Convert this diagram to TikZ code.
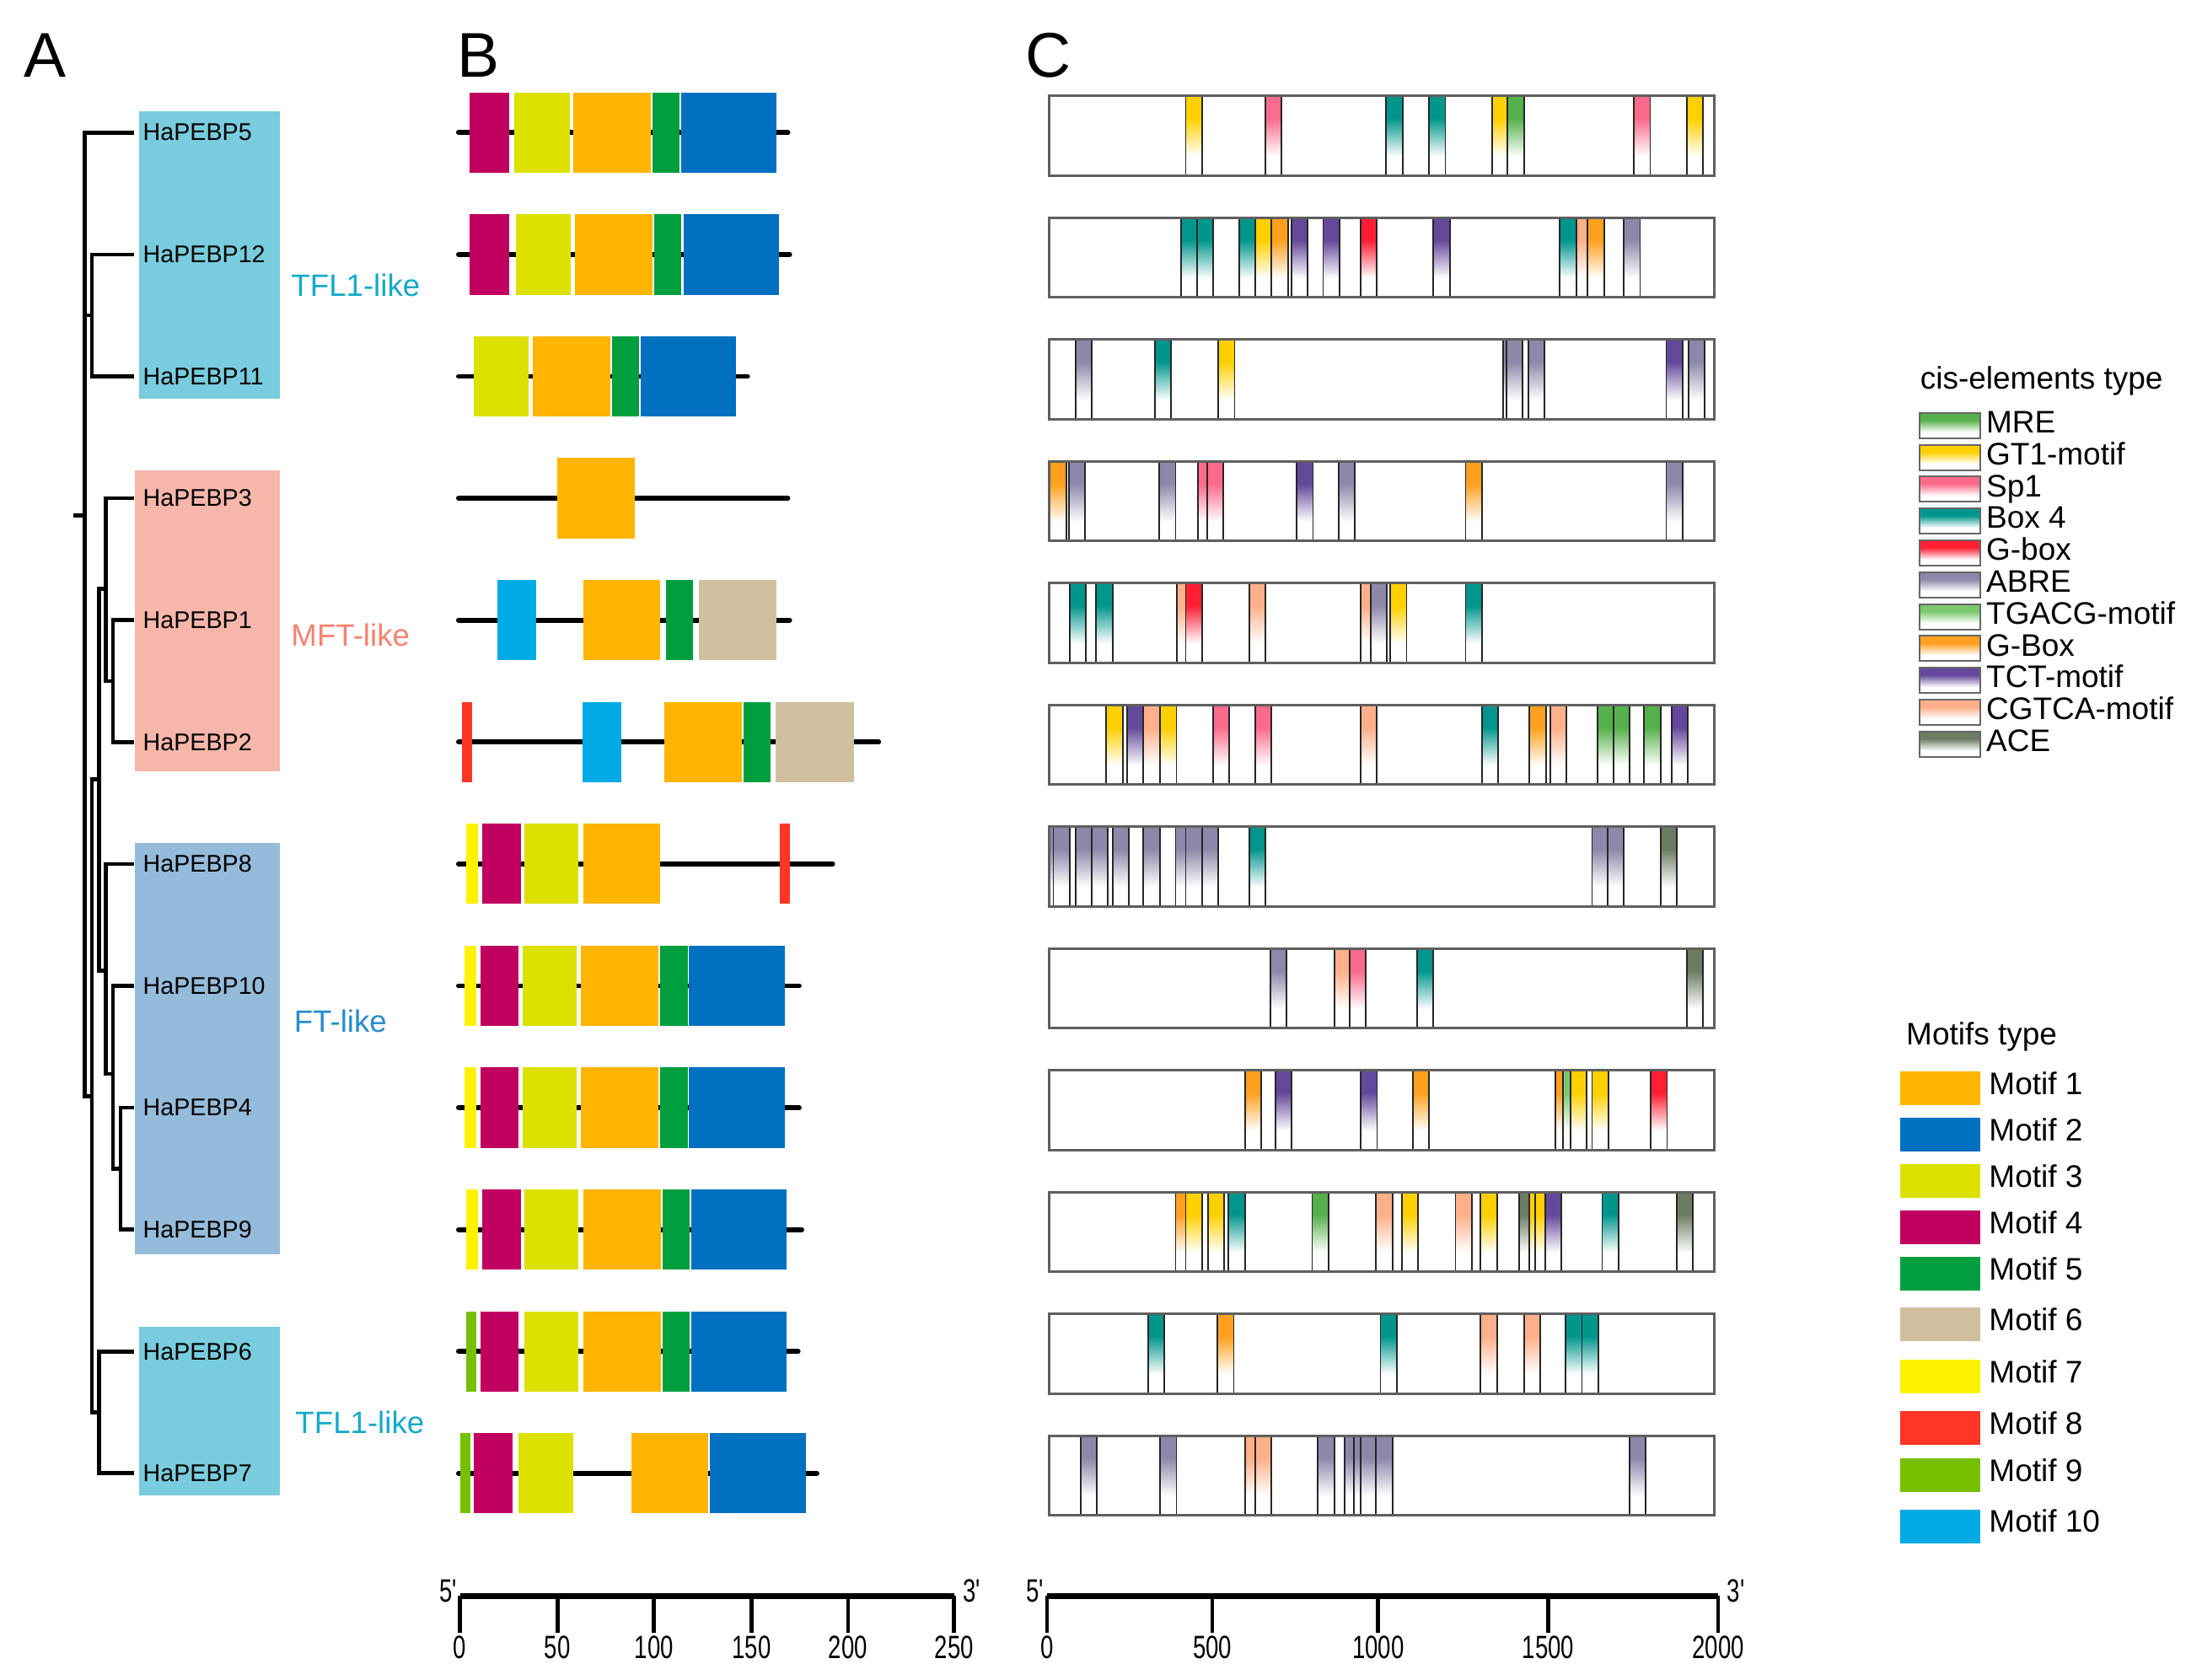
\documentclass[tikz,border=0pt]{standalone}
\usepackage{fontspec}
\setmainfont{Liberation Sans}
\usepackage{graphicx}

% motif colours
\definecolor{mA}{HTML}{FFB400}
\definecolor{mB}{HTML}{0070C0}
\definecolor{mC}{HTML}{DCE100}
\definecolor{mD}{HTML}{C0005E}
\definecolor{mE}{HTML}{009E3D}
\definecolor{mF}{HTML}{CFBF9F}
\definecolor{mG}{HTML}{FFF200}
\definecolor{mH}{HTML}{FF3526}
\definecolor{mI}{HTML}{76C000}
\definecolor{mJ}{HTML}{00ABE4}
% cis-element colours
\definecolor{cMRE}{HTML}{55AF4A}
\definecolor{cGT}{HTML}{FFD000}
\definecolor{cSp}{HTML}{FA6A8A}
\definecolor{cBox}{HTML}{00968C}
\definecolor{cGb}{HTML}{FF1E32}
\definecolor{cAB}{HTML}{8C88AA}
\definecolor{cTG}{HTML}{7AC86C}
\definecolor{cGB}{HTML}{FFA01E}
\definecolor{cTCT}{HTML}{64489A}
\definecolor{cCG}{HTML}{FFB08A}
\definecolor{cACE}{HTML}{6C7C62}
% group colours
\definecolor{bgTFL}{HTML}{78CCDD}
\definecolor{bgMFT}{HTML}{F7B6AA}
\definecolor{bgFT}{HTML}{95BBDA}
\definecolor{txTFL}{HTML}{13AACB}
\definecolor{txMFT}{HTML}{F5826E}
\definecolor{txFT}{HTML}{288CCD}
\definecolor{rowgray}{HTML}{5F5F5F}

\colorlet{cistop}{red}
\pgfdeclareverticalshading[cistop]{cisfade}{100bp}{color(0bp)=(white); color(37bp)=(white); color(61bp)=(cistop); color(100bp)=(cistop)}

\newcommand\cisel[3]{%
  \colorlet{cistop}{#1}%
  \pgfmathsetmacro\cisy{68.4+(#3-1)*86.74}%
  \shade[shading=cisfade] (#2,\cisy) rectangle ++(11.6,56.7);%
  \draw[elline] (#2,\cisy) rectangle ++(11.6,56.7);%
}
\newcommand\gline[3]{\draw[gline] (#1,#3) -- (#2,#3);}
\newcommand\mot[4]{\fill[#1] (#2,#4-28.6) rectangle (#3,#4+28.6);}
\newcommand\cond[1]{\scalebox{0.72}[1]{#1}}

\tikzset{
  treeline/.style={line width=1.4pt, line cap=rect},
  gene/.style={anchor=west, inner sep=0pt, font=\fontsize{8.6}{9}\selectfont},
  grp/.style={anchor=west, inner sep=0pt, font=\fontsize{11}{12}\selectfont},
  panel/.style={anchor=base west, inner sep=0pt, font=\fontsize{22.5}{24}\selectfont},
  gline/.style={line width=1.75pt, line cap=round},
  elline/.style={draw=black!85, line width=0.55pt},
  rowbox/.style={draw=rowgray, line width=0.9pt},
  legtxt/.style={anchor=base west, inner sep=0pt, font=\fontsize{11.1}{12}\selectfont},
  swatch/.style={draw=gray!80!black, line width=0.6pt},
  axmain/.style={line width=2pt},
  axtick/.style={line width=1.4pt},
  axl/.style={inner sep=0pt, font=\fontsize{11.5}{12}\selectfont},
}

\begin{document}
\begin{tikzpicture}[x=0.5pt, y=-0.5pt]
\useasboundingbox (0,0) rectangle (1568,1196);
\fill[white] (0,0) rectangle (1568,1196);

% panel letters
\node[panel] (lA) at (17,55) {A};
\node[panel] (lB) at (325,55) {B};
\node[panel] (lC) at (730,55) {C};

% ---------------- Panel A ----------------
\fill[bgTFL] (99,79) rectangle (199,284);
\fill[bgMFT] (96,335) rectangle (199,549.5);
\fill[bgFT]  (96,600) rectangle (199,893);
\fill[bgTFL] (99,945) rectangle (199,1065);

\coordinate (t5)  at (94,94.4);
\coordinate (t12) at (94,181.2);
\coordinate (t11) at (94,268.0);
\coordinate (t3)  at (94,354.8);
\coordinate (t1)  at (94,441.6);
\coordinate (t2)  at (94,528.4);
\coordinate (t8)  at (94,615.2);
\coordinate (t10) at (94,702.0);
\coordinate (t4)  at (94,788.8);
\coordinate (t9)  at (94,875.6);
\coordinate (t6)  at (94,962.4);
\coordinate (t7)  at (94,1049.2);

\coordinate (R0)  at (53.8,367);
\coordinate (R)   at (60.4,367);
\coordinate (N1)  at (65.5,224.6);
\coordinate (N2)  at (65.5,780.6);
\coordinate (N3)  at (70.5,555);
\coordinate (N4)  at (75.5,419.4);
\coordinate (N4b) at (80.5,485.0);
\coordinate (N5)  at (75.5,691.2);
\coordinate (N6)  at (80.5,764.8);
\coordinate (N6b) at (85.9,832.2);
\coordinate (N7)  at (70.5,1005.8);

\draw[treeline] (R0) -- (R);
\draw[treeline] (R) |- (t5);
\draw[treeline] (R) |- (N1);
\draw[treeline] (R) |- (N2);
\draw[treeline] (N1) |- (t12);
\draw[treeline] (N1) |- (t11);
\draw[treeline] (N2) |- (N3);
\draw[treeline] (N2) |- (N7);
\draw[treeline] (N3) |- (N4);
\draw[treeline] (N3) |- (N5);
\draw[treeline] (N4) |- (t3);
\draw[treeline] (N4) |- (N4b);
\draw[treeline] (N4b) |- (t1);
\draw[treeline] (N4b) |- (t2);
\draw[treeline] (N5) |- (t8);
\draw[treeline] (N5) |- (N6);
\draw[treeline] (N6) |- (t10);
\draw[treeline] (N6) |- (N6b);
\draw[treeline] (N6b) |- (t4);
\draw[treeline] (N6b) |- (t9);
\draw[treeline] (N7) |- (t6);
\draw[treeline] (N7) |- (t7);

\node[gene] (g5)  at (101.5,94.4)  {HaPEBP5};
\node[gene] (g12) at (101.5,181.2) {HaPEBP12};
\node[gene] (g11) at (101.5,268.0) {HaPEBP11};
\node[gene] (g3)  at (101.5,354.8) {HaPEBP3};
\node[gene] (g1)  at (101.5,441.6) {HaPEBP1};
\node[gene] (g2)  at (101.5,528.4) {HaPEBP2};
\node[gene] (g8)  at (101.5,615.2) {HaPEBP8};
\node[gene] (g10) at (101.5,702.0) {HaPEBP10};
\node[gene] (g4)  at (101.5,788.8) {HaPEBP4};
\node[gene] (g9)  at (101.5,875.6) {HaPEBP9};
\node[gene] (g6)  at (101.5,962.4) {HaPEBP6};
\node[gene] (g7)  at (101.5,1049.2) {HaPEBP7};

\node[grp, text=txTFL] (grTFLa) at (207,203)  {TFL1-like};
\node[grp, text=txMFT] (grMFT)  at (207,452)  {MFT-like};
\node[grp, text=txFT]  (grFT)   at (209,727)  {FT-like};
\node[grp, text=txTFL] (grTFLb) at (210,1013) {TFL1-like};

% ---------------- Panel B ----------------
% row 1
\gline{326.5}{561}{94.4}
\mot{mD}{334.6}{362.6}{94.4}\mot{mC}{366.2}{405.6}{94.4}\mot{mA}{408}{463.6}{94.4}\mot{mE}{464.4}{483.6}{94.4}\mot{mB}{485}{553}{94.4}
% row 2
\gline{326.5}{562.3}{181.2}
\mot{mD}{334.6}{362.6}{181.2}\mot{mC}{367.4}{406.6}{181.2}\mot{mA}{409.2}{464.6}{181.2}\mot{mE}{465.8}{485}{181.2}\mot{mB}{486.6}{554.4}{181.2}
% row 3
\gline{326.5}{532.3}{268}
\mot{mC}{337.6}{376.6}{268}\mot{mA}{379.2}{434.6}{268}\mot{mE}{435.6}{455}{268}\mot{mB}{456}{524}{268}
% row 4
\gline{326.5}{561}{354.8}
\mot{mA}{397}{452.2}{354.8}
% row 5
\gline{326.5}{562.3}{441.6}
\mot{mJ}{354}{382}{441.6}\mot{mA}{415.2}{470.2}{441.6}\mot{mE}{474}{493.6}{441.6}\mot{mF}{497.4}{553}{441.6}
% row 6
\gline{326.5}{625.7}{528.4}
\mot{mH}{329.2}{336}{528.4}\mot{mJ}{414.6}{442.6}{528.4}\mot{mA}{472.8}{528.2}{528.4}\mot{mE}{529.2}{548.6}{528.4}\mot{mF}{552.4}{608.2}{528.4}
% row 7
\gline{326.5}{592.9}{615.2}
\mot{mG}{332}{340.6}{615.2}\mot{mD}{343.2}{370.8}{615.2}\mot{mC}{373.2}{412}{615.2}\mot{mA}{415.2}{470.2}{615.2}\mot{mH}{555.4}{562.6}{615.2}
% row 8
\gline{326.5}{569.1}{702}
\mot{mG}{330.6}{339.2}{702}\mot{mD}{342}{369.4}{702}\mot{mC}{372.2}{410.6}{702}\mot{mA}{413.4}{468.6}{702}\mot{mE}{470}{490}{702}\mot{mB}{490.6}{558.6}{702}
% row 9
\gline{326.5}{569.1}{788.8}
\mot{mG}{330.6}{339.2}{788.8}\mot{mD}{342}{369.4}{788.8}\mot{mC}{372.2}{410.6}{788.8}\mot{mA}{413.4}{468.6}{788.8}\mot{mE}{470}{490}{788.8}\mot{mB}{490.6}{558.6}{788.8}
% row 10
\gline{326.5}{570.9}{875.6}
\mot{mG}{332}{340.6}{875.6}\mot{mD}{343.2}{370.8}{875.6}\mot{mC}{373.2}{412}{875.6}\mot{mA}{415.2}{470.6}{875.6}\mot{mE}{471.6}{491}{875.6}\mot{mB}{492}{560}{875.6}
% row 11
\gline{326.5}{568.3}{962.4}
\mot{mI}{332}{339.2}{962.4}\mot{mD}{342}{369.4}{962.4}\mot{mC}{373.2}{412}{962.4}\mot{mA}{415.2}{470.6}{962.4}\mot{mE}{471.6}{491}{962.4}\mot{mB}{492}{560}{962.4}
% row 12
\gline{326.5}{581.7}{1049.2}
\mot{mI}{327.6}{334.8}{1049.2}\mot{mD}{337.6}{365}{1049.2}\mot{mC}{369.2}{408}{1049.2}\mot{mA}{449.6}{504.4}{1049.2}\mot{mB}{505.6}{573.6}{1049.2}

% ---------------- Panel C ----------------
\foreach \c/\x in {cGT/844.3, cSp/900.8, cBox/987.1, cBox/1017.6, cGT/1062.5, cMRE/1073.5, cSp/1163.5, cGT/1201.2}{\cisel{\c}{\x}{1}}
\foreach \c/\x in {cBox/841.2, cBox/852.2, cBox/882.6, cGT/893.6, cGB/905.5, cTCT/919.6, cTCT/942.2, cGb/968.9, cTCT/1020.7, cBox/1110.8, cCG/1122.7, cGB/1130.6, cAB/1156.3}{\cisel{\c}{\x}{2}}
\foreach \c/\x in {cAB/765.8, cBox/822.3, cGT/867.5, cAB/1070.3, cAB/1072.6, cAB/1088.2, cTCT/1186.5, cAB/1202.2}{\cisel{\c}{\x}{3}}
\foreach \c/\x in {cGB/747.6, cAB/761.1, cAB/825.5, cSp/852.8, cSp/859.4, cTCT/923.4, cAB/953.2, cGB/1043.6, cAB/1186.5}{\cisel{\c}{\x}{4}}
\foreach \c/\x in {cBox/761.8, cBox/780.6, cCG/838.0, cGb/844.3, cCG/889.5, cCG/968.9, cAB/976.1, cGT/990.0, cBox/1043.6}{\cisel{\c}{\x}{5}}
\foreach \c/\x in {cGT/787.8, cTCT/802.6, cCG/814.2, cGT/826.1, cSp/863.8, cSp/893.6, cCG/968.9, cBox/1055.2, cGB/1089.1, cCG/1103.9, cMRE/1137.5, cMRE/1148.8, cMRE/1170.8, cTCT/1190.2}{\cisel{\c}{\x}{6}}
\foreach \c/\x in {cAB/747.6, cAB/750.1, cAB/765.8, cAB/777.4, cAB/792.2, cAB/814.2, cAB/837.1, cAB/844.3, cAB/855.9, cBox/889.5, cAB/1133.7, cAB/1144.7, cACE/1182.4}{\cisel{\c}{\x}{7}}
\foreach \c/\x in {cAB/904.6, cCG/950.1, cSp/961.1, cBox/1009.1, cACE/1201.2}{\cisel{\c}{\x}{8}}
\foreach \c/\x in {cGB/886.4, cTCT/908.3, cTCT/969.0, cGB/1006.0, cGB/1107.4, cTG/1113.0, cGT/1118.3, cGT/1133.7, cGb/1175.5}{\cisel{\c}{\x}{9}}
\foreach \c/\x in {cGB/837.1, cGT/844.3, cGT/860.0, cBox/874.8, cMRE/934.4, cCG/979.9, cGT/998.1, cCG/1036.4, cGT/1054.3, cACE/1081.6, cGT/1089.1, cGT/1092.9, cTCT/1100.1, cBox/1140.9, cACE/1194.0}{\cisel{\c}{\x}{10}}
\foreach \c/\x in {cBox/817.6, cGB/866.9, cBox/983.0, cCG/1054.3, cCG/1085.1, cBox/1114.9, cBox/1126.5}{\cisel{\c}{\x}{11}}
\foreach \c/\x in {cAB/769.6, cAB/826.1, cCG/886.4, cCG/893.6, cAB/938.5, cAB/957.3, cAB/964.2, cAB/968.9, cAB/979.9, cAB/1160.4}{\cisel{\c}{\x}{12}}
\foreach \i in {1,...,12}{
  \pgfmathsetmacro\ry{68.4+(\i-1)*86.74}
  \draw[rowbox] (747,\ry) rectangle (1220.5,\ry+56.7);
}

% ---------------- Legends ----------------
\node[legtxt] (cisT) at (1367,277) {cis-elements type};
\foreach \c/\t [count=\k from 0] in {cMRE/MRE, cGT/GT1-motif, cSp/Sp1, cBox/Box 4, cGb/G-box, cAB/ABRE, cTG/TGACG-motif, cGB/G-Box, cTCT/TCT-motif, cCG/CGTCA-motif, cACE/ACE}{
  \pgfmathsetmacro\cy{303+\k*22.7}
  \colorlet{cistop}{\c}
  \shade[shading=cisfade] (1367,\cy-9) rectangle (1410,\cy+9);
  \draw[swatch] (1367,\cy-9) rectangle (1410,\cy+9);
  \node[legtxt] (cisL\k) at (1414,\cy+5.2) {\t};
}

\node[legtxt] (motT) at (1357,744) {Motifs type};
\foreach \c/\t/\cy [count=\k] in {mA/1/775, mB/2/808, mC/3/841, mD/4/874, mE/5/907, mF/6/943, mG/7/980.5, mH/8/1017, mI/9/1050.5, mJ/10/1087}{
  \fill[\c] (1353,\cy-12) rectangle (1410,\cy+12);
  \node[legtxt] (motL\k) at (1416,\cy+4.3) {Motif \t};
}

% ---------------- Axes ----------------
\draw[axmain] (327.5,1136.6) -- (679.4,1136.6);
\foreach \x/\l in {327.5/0, 396.9/50, 465.7/100, 535.1/150, 603.9/200, 679.4/250}{
  \draw[axtick] (\x,1136.6) -- (\x,1163);
  \node[axl] (bt\l) at (\x,1173) {\cond{\l}};
}
\node[axl] (b5) at (319,1133) {\cond{5\textquotesingle}};
\node[axl] (b3) at (692,1133) {\cond{3\textquotesingle}};

\draw[axmain] (745.6,1136.6) -- (1223.5,1136.6);
\foreach \x/\l in {745.6/0, 863.3/500, 981.3/1000, 1102.5/1500, 1223.5/2000}{
  \draw[axtick] (\x,1136.6) -- (\x,1163);
  \node[axl] (ct\l) at (\x,1173) {\cond{\l}};
}
\node[axl] (c5) at (737,1133) {\cond{5\textquotesingle}};
\node[axl] (c3) at (1236,1133) {\cond{3\textquotesingle}};
\end{tikzpicture}
\end{document}
